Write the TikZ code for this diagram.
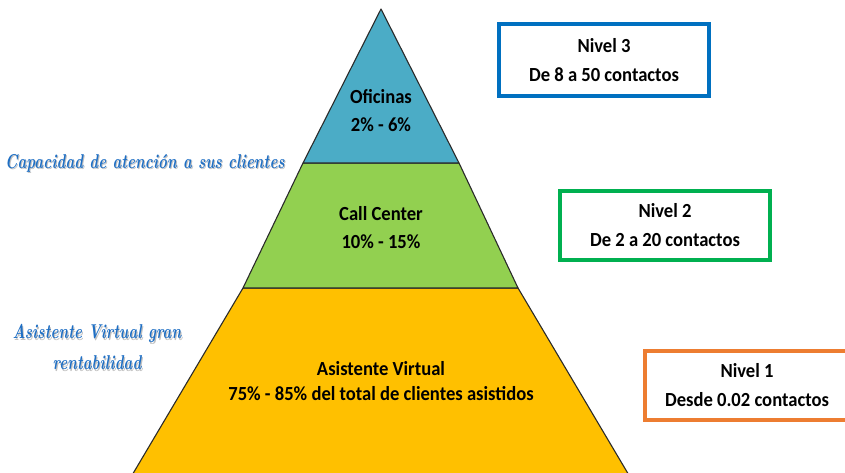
\documentclass[tikz,border=0pt]{standalone}
\usepackage{fontspec}
\setmainfont{Carlito}
\newfontfamily\labelfont{Carlito}[FakeStretch=0.93]
\newfontfamily\notefont{Latin Modern Roman}[FakeStretch=0.75]

\definecolor{tierblue}{HTML}{4BACC6}
\definecolor{tiergreen}{HTML}{92D050}
\definecolor{tieryellow}{HTML}{FFC000}
\definecolor{edgegray}{HTML}{2A2A2A}
\definecolor{boxblue}{HTML}{0070C0}
\definecolor{boxgreen}{HTML}{00B050}
\definecolor{boxorange}{HTML}{ED7D31}
\definecolor{noteblue}{HTML}{1F6FC4}

\tikzset{
  tier/.style={draw=edgegray, line width=1.1pt, line join=round},
  tierlabel/.style={align=center, font=\labelfont\bfseries\fontsize{20}{28}\selectfont, text=black},
  levelbox/.style={draw, line width=4pt, fill=white, inner sep=0pt},
  leveltext/.style={align=center, font=\labelfont\bfseries\fontsize{20}{29}\selectfont, text=black},
  note/.style={align=center, text=noteblue, font=\notefont\bfseries\itshape\fontsize{20}{31}\selectfont},
  noteshadow/.style={align=center, text=black!25, font=\notefont\bfseries\itshape\fontsize{20}{31}\selectfont}
}

\begin{document}
\begin{tikzpicture}[x=1pt,y=-1pt]
\useasboundingbox (0,0) rectangle (845,472);
\clip (0,0) rectangle (845,472);

% pyramid tiers, top to bottom
\coordinate (apex) at (381,9);
\coordinate (l1) at (303,163);
\coordinate (r1) at (459,163);
\coordinate (l2) at (243,288);
\coordinate (r2) at (518,288);
\coordinate (l3) at (128,482);
\coordinate (r3) at (633,482);
\draw[tier, fill=tieryellow] (l2) -- (r2) -- (r3) -- (l3) -- cycle;
\draw[tier, fill=tiergreen] (l1) -- (r1) -- (r2) -- (l2) -- cycle;
\draw[tier, fill=tierblue] (apex) -- (r1) -- (l1) -- cycle;

\node[tierlabel] (oficinas) at (381,111) {Oficinas\\2\% - 6\%};
\node[tierlabel] (callcenter) at (381,228) {Call Center\\10\% - 15\%};
\node[tierlabel, font=\labelfont\bfseries\fontsize{20}{25}\selectfont] (asistente) at (381,381)
  {Asistente Virtual\\75\% - 85\% del total de clientes asistidos};

% level boxes (the lowest one runs past the right edge)
\node[levelbox, draw=boxblue, minimum width=210pt, minimum height=72pt] (nivel3) at (604,60) {};
\node[leveltext] (nivel3text) at (nivel3.center) {Nivel 3\\De 8 a 50 contactos};
\node[levelbox, draw=boxgreen, minimum width=210pt, minimum height=69pt] (nivel2) at (665,225.5) {};
\node[leveltext] (nivel2text) at (nivel2.center) {Nivel 2\\De 2 a 20 contactos};
\node[levelbox, draw=boxorange, minimum width=216pt, minimum height=69pt] (nivel1) at (753,385.5) {};
\node[leveltext] (nivel1text) at (747,385.5) {Nivel 1\\Desde 0.02 contactos};

% side notes
\node[noteshadow] at (146,164.5) {Capacidad de atención a sus clientes};
\node[note] (capacidad) at (145,163) {Capacidad de atención a sus clientes};
\node[noteshadow] at (98,348.5) {Asistente Virtual gran\\rentabilidad};
\node[note] (rentabilidad) at (97,347) {Asistente Virtual gran\\rentabilidad};
\end{tikzpicture}
\end{document}
